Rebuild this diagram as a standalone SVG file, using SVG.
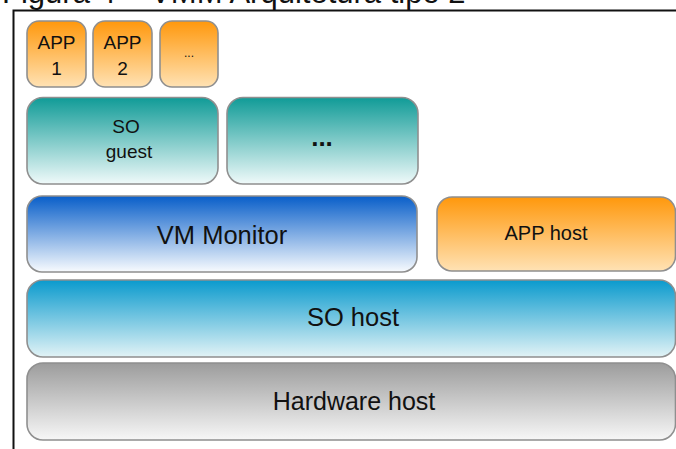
<svg xmlns="http://www.w3.org/2000/svg" width="676" height="449" viewBox="0 0 676 449">
  <style>
    .box { stroke: #8f8f8f; stroke-width: 1.6; }
    .lbl { font-family: "Liberation Sans", Arial, sans-serif; fill: #111; text-anchor: middle; }
    .frame { fill: none; stroke: #111; stroke-width: 2; }
  </style>
  <defs>
    <linearGradient id="gOrange" x1="0" y1="0" x2="0" y2="1">
      <stop offset="0" stop-color="#ff980c"/>
      <stop offset="1" stop-color="#ffe2b4"/>
    </linearGradient>
    <linearGradient id="gTeal" x1="0" y1="0" x2="0" y2="1">
      <stop offset="0" stop-color="#109b97"/>
      <stop offset="1" stop-color="#f0fafa"/>
    </linearGradient>
    <linearGradient id="gBlue" x1="0" y1="0" x2="0" y2="1">
      <stop offset="0" stop-color="#085ec9"/>
      <stop offset="1" stop-color="#f8fbfe"/>
    </linearGradient>
    <linearGradient id="gCyan" x1="0" y1="0" x2="0" y2="1">
      <stop offset="0" stop-color="#0a9acd"/>
      <stop offset="1" stop-color="#e2f3f6"/>
    </linearGradient>
    <linearGradient id="gGray" x1="0" y1="0" x2="0" y2="1">
      <stop offset="0" stop-color="#9c9c9c"/>
      <stop offset="1" stop-color="#f7f7f7"/>
    </linearGradient>
  </defs>

  <!-- caption, partly above the top edge -->
  <text x="2" y="3" font-family="'Liberation Sans', Arial, sans-serif" font-size="31" fill="#111">Figura 4 – VMM Arquitetura tipo 2</text>

  <!-- figure frame -->
  <path class="frame" d="M13.5 460 V10.5 H690"/>

  <!-- applications on the guest -->
  <g id="app1">
    <rect class="box" x="27" y="21" width="59" height="66" rx="12" fill="url(#gOrange)"/>
    <text class="lbl" x="56.5" y="49" font-size="19">APP</text>
    <text class="lbl" x="56.5" y="75" font-size="19">1</text>
  </g>
  <g id="app2">
    <rect class="box" x="93" y="21" width="59" height="66" rx="12" fill="url(#gOrange)"/>
    <text class="lbl" x="122.5" y="49" font-size="19">APP</text>
    <text class="lbl" x="122.5" y="75" font-size="19">2</text>
  </g>
  <g id="app-more">
    <rect class="box" x="160" y="21" width="58" height="66" rx="12" fill="url(#gOrange)"/>
    <text class="lbl" x="189" y="57" font-size="12" fill="#444">...</text>
  </g>

  <!-- guest operating systems -->
  <g id="so-guest">
    <rect class="box" x="27" y="97.5" width="191" height="86.5" rx="16" fill="url(#gTeal)"/>
    <text class="lbl" x="126" y="133" font-size="19">SO</text>
    <text class="lbl" x="129" y="158" font-size="19">guest</text>
  </g>
  <g id="so-more">
    <rect class="box" x="227" y="97.5" width="191" height="86.5" rx="16" fill="url(#gTeal)"/>
    <text class="lbl" x="322" y="146" font-size="26" font-weight="bold">...</text>
  </g>

  <!-- virtual machine monitor and host application -->
  <g id="vm-monitor">
    <rect class="box" x="27" y="196" width="390" height="76" rx="15" fill="url(#gBlue)"/>
    <text class="lbl" x="222" y="244" font-size="25.5">VM Monitor</text>
  </g>
  <g id="app-host">
    <rect class="box" x="437" y="197" width="238.5" height="74" rx="15" fill="url(#gOrange)"/>
    <text class="lbl" x="546" y="240" font-size="20">APP host</text>
  </g>

  <!-- host operating system -->
  <g id="so-host">
    <rect class="box" x="27" y="280" width="648.5" height="77" rx="16" fill="url(#gCyan)"/>
    <text class="lbl" x="353" y="326" font-size="25.5">SO host</text>
  </g>

  <!-- host hardware -->
  <g id="hardware-host">
    <rect class="box" x="27" y="363" width="648.5" height="77" rx="16" fill="url(#gGray)"/>
    <text class="lbl" x="354" y="410" font-size="25">Hardware host</text>
  </g>

  <g id="connectors"/>
</svg>
